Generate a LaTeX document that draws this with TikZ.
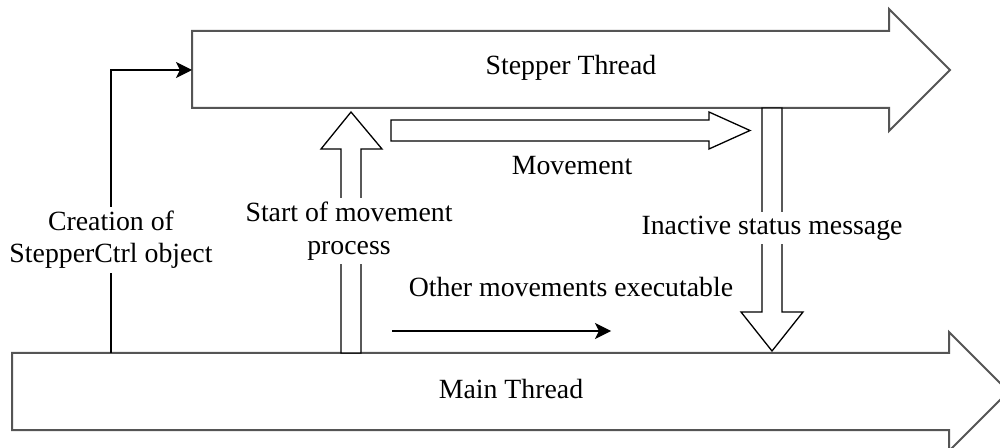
\documentclass[tikz,border=0pt]{standalone}
\usepackage{fontspec}
\setmainfont{Liberation Serif}
\usetikzlibrary{arrows.meta}
\begin{document}
\begin{tikzpicture}[x=0.5pt,y=-0.5pt,
  blockarrow/.style={draw={rgb,255:red,85;green,85;blue,85}, line width=1pt, line join=miter, fill=white},
  hollowarrow/.style={draw=black, line width=0.65pt, line join=miter, fill=white},
  thinarrow/.style={draw=black, line width=0.65pt, -{Stealth[length=8pt,width=8pt,inset=2pt]}},
  lbl/.style={font=\fontsize{13.9}{16.3}\selectfont, align=center, inner sep=1pt, text=black},
  lblbg/.style={lbl, fill=white, inner sep=2pt}]
\useasboundingbox (0,0) rectangle (1000,448);
\clip (0,0) rectangle (1000,448);

% Main Thread block arrow
\draw[blockarrow] (12,353) -- (949,353) -- (949,332) -- (1008.5,391.5) -- (949,451) -- (949,430) -- (12,430) -- cycle;
\node[lbl] (mainlbl) at (511,389) {Main Thread};

% Stepper Thread block arrow
\draw[blockarrow] (192,31) -- (889,31) -- (889,9) -- (950,70) -- (889,131) -- (889,108) -- (192,108) -- cycle;
\node[lbl] (stepperlbl) at (571,68) {Stepper Thread};

% Start of movement process (hollow, up)
\draw[hollowarrow] (341,353) -- (341,149) -- (321,149) -- (351,112) -- (382,149) -- (361,149) -- (361,353) -- cycle;
\node[lblbg] (startlbl) at (349,231) {Start of movement\\process};

% Movement (hollow, right)
\draw[hollowarrow] (391,120) -- (709,120) -- (709,112) -- (750,130.5) -- (709,149) -- (709,141) -- (391,141) -- cycle;
\node[lbl] (movlbl) at (572,166) {Movement};

% Inactive status message (hollow, down)
\draw[hollowarrow] (762,108) -- (762,312) -- (741,312) -- (772,351) -- (803,312) -- (782,312) -- (782,108) -- cycle;
\node[lblbg] (inactlbl) at (772,228) {Inactive status message};

% Creation of StepperCtrl object
\coordinate (creaStart) at (111,353);
\coordinate (creaCorner) at (111,70);
\coordinate (stepperLeft) at (192,70);
\draw[thinarrow] (creaStart) -- node[lblbg, pos=0.4] (crealbl) {Creation of\\StepperCtrl object} (creaCorner) -- (stepperLeft);

% Other movements executable
\node[lbl] (otherlbl) at (571,287) {Other movements executable};
\coordinate (omStart) at (392,331);
\coordinate (omEnd) at (611,331);
\draw[thinarrow] (omStart) -- (omEnd);
\end{tikzpicture}
\end{document}
